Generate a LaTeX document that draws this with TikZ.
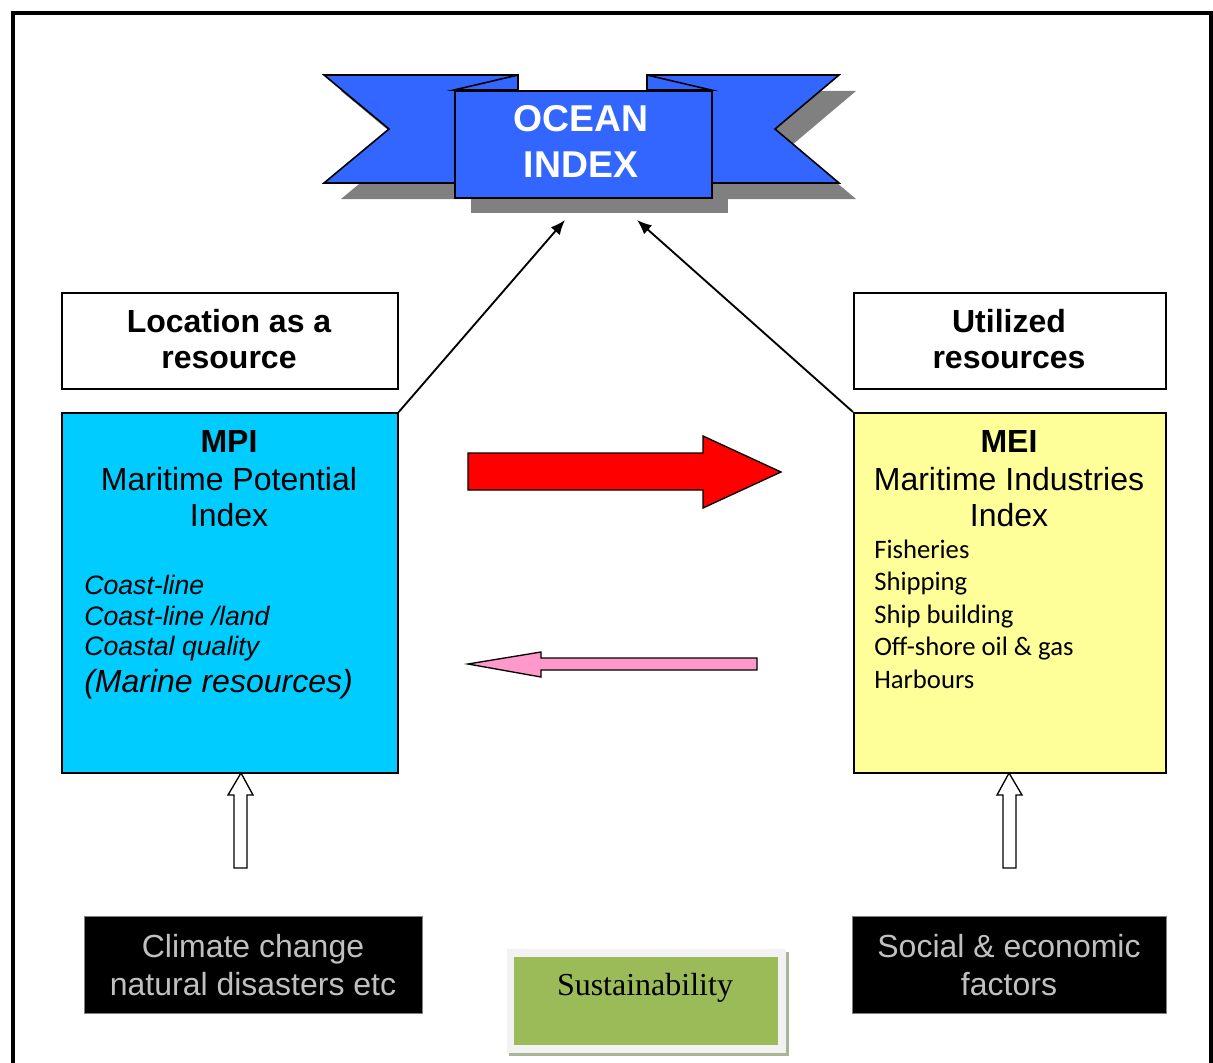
\documentclass[tikz,border=0pt]{standalone}
\usepackage{fontspec}
\setmainfont{Liberation Sans}
\newfontfamily\calibrifont{Carlito}
\newfontfamily\timesfont{Liberation Serif}
\usetikzlibrary{arrows.meta}
\definecolor{ribbonblue}{RGB}{51,102,255}
\definecolor{mpicyan}{RGB}{0,204,255}
\definecolor{meiyellow}{RGB}{255,255,153}
\definecolor{pinkarrow}{RGB}{255,153,204}
\definecolor{sustgreen}{RGB}{155,187,89}
\definecolor{sustframe}{RGB}{242,242,242}
\definecolor{sustshadow}{RGB}{170,180,150}
\definecolor{shadowgray}{RGB}{128,128,128}
\definecolor{greytext}{RGB}{192,192,192}
\begin{document}
\begin{tikzpicture}[x=0.75pt,y=-0.75pt,
  sz/.style 2 args={minimum width=#1*0.75pt, minimum height=#2*0.75pt},
  boxnode/.style={draw=black, line width=1.3pt, inner sep=0pt, anchor=north west},
  darkbox/.style={fill=black, draw=shadowgray, line width=0.8pt, inner sep=0pt, anchor=north west},
  ribbonpart/.style={fill=ribbonblue, draw=black, line width=1.2pt, line join=miter},
  txt/.style={inner sep=0pt, anchor=base},
  ltxt/.style={inner sep=0pt, anchor=base west},
  bigbold/.style={font=\fontsize{24}{28}\selectfont\bfseries},
  bigreg/.style={font=\fontsize{24}{28}\selectfont},
  itsmall/.style={font=\fontsize{20}{24}\selectfont\itshape},
  itbig/.style={font=\fontsize{24}{28}\selectfont\itshape},
  listtxt/.style={font=\fontsize{20}{24}\selectfont\calibrifont},
  greyt/.style={font=\fontsize{24}{28}\selectfont, text=greytext},
  thinarrow/.style={line width=1.4pt, -{Latex[length=11pt,width=9pt]}},
  blockarrow/.style={draw=black, line width=1pt, line join=miter}
]
\useasboundingbox (0,0) rectangle (1213,1063);
\fill[white] (0,0) rectangle (1213,1063);
\draw[line width=3pt] (13,1063) -- (13,13) -- (1211,13) -- (1211,1063);

% ribbon shadow
\begin{scope}[shift={(17,16)}]
  \fill[shadowgray] (324,75) -- (518,75) -- (518,183) -- (324,183) -- (389,129) -- cycle;
  \fill[shadowgray] (839,75) -- (647,75) -- (647,183) -- (839,183) -- (775,129) -- cycle;
  \fill[shadowgray] (454,90) rectangle (711,197);
\end{scope}
% ribbon tails and folds
\filldraw[ribbonpart] (518,183) -- (324,183) -- (389,129) -- (324,75) -- (518,75) -- cycle;
\filldraw[ribbonpart] (454,90) -- (518,75) -- (518,90) -- cycle;
\filldraw[ribbonpart] (647,183) -- (839,183) -- (775,129) -- (839,75) -- (647,75) -- cycle;
\filldraw[ribbonpart] (711,90) -- (647,75) -- (647,90) -- cycle;
\node[boxnode, fill=ribbonblue, line width=1.2pt, sz={257}{107}] (ocean) at (454,90) {};
\node[txt, font=\fontsize{28}{32}\selectfont\bfseries, text=white] (oceanA) at (581,132) {OCEAN};
\node[txt, font=\fontsize{28}{32}\selectfont\bfseries, text=white] (oceanB) at (581,177) {INDEX};

% header boxes
\node[boxnode, fill=white, sz={336}{96}] (loc) at (61,292) {};
\node[txt, bigbold] (locA) at (229,332) {Location as a};
\node[txt, bigbold] (locB) at (229,368) {resource};
\node[boxnode, fill=white, sz={312}{96}] (util) at (853,292) {};
\node[txt, bigbold] (utilA) at (1009,332) {Utilized};
\node[txt, bigbold] (utilB) at (1009,368) {resources};

% MPI box
\node[boxnode, fill=mpicyan, sz={336}{360}] (mpi) at (61,412) {};
\node[txt, bigbold] (mpiA) at (229,452) {MPI};
\node[txt, bigreg] (mpiB) at (229,490) {Maritime Potential};
\node[txt, bigreg] (mpiC) at (229,526) {Index};
\node[ltxt, itsmall] (mpiD) at (84,594) {Coast-line};
\node[ltxt, itsmall] (mpiE) at (84,625) {Coast-line /land};
\node[ltxt, itsmall] (mpiF) at (84,655) {Coastal quality};
\node[ltxt, itbig] (mpiG) at (84,692) {(Marine resources)};

% MEI box
\node[boxnode, fill=meiyellow, sz={312}{360}] (mei) at (853,412) {};
\node[txt, bigbold] (meiA) at (1009,452) {MEI};
\node[txt, bigreg] (meiB) at (1009,490) {Maritime Industries};
\node[txt, bigreg] (meiC) at (1009,526) {Index};
\node[ltxt, listtxt] (meiD) at (874,558) {Fisheries};
\node[ltxt, listtxt] (meiE) at (874,590) {Shipping};
\node[ltxt, listtxt] (meiF) at (874,623) {Ship building};
\node[ltxt, listtxt] (meiG) at (874,655) {Off-shore oil \& gas};
\node[ltxt, listtxt] (meiH) at (874,688) {Harbours};

% thin arrows to the ribbon
\coordinate (tipL) at (565,220);
\coordinate (tipR) at (637,220);
\draw[thinarrow] (mpi.north east) -- (tipL);
\draw[thinarrow] (mei.north west) -- (tipR);

% block arrows
\filldraw[blockarrow, fill=red] (468,453) -- (703,453) -- (703,436) -- (781,472) -- (703,508) -- (703,490) -- (468,490) -- cycle;
\filldraw[blockarrow, fill=pinkarrow] (757,658) -- (541,658) -- (541,652) -- (468,664) -- (541,677) -- (541,670) -- (757,670) -- cycle;
\filldraw[blockarrow, fill=white] (241,773) -- (253,795) -- (247,795) -- (247,868) -- (234,868) -- (234,795) -- (228,795) -- cycle;
\filldraw[blockarrow, fill=white] (1009,773) -- (1022,795) -- (1016,795) -- (1016,868) -- (1003,868) -- (1003,795) -- (997,795) -- cycle;

% bottom boxes
\node[darkbox, sz={338}{97}] (clim) at (84,916) {};
\node[txt, greyt] (climA) at (253,957) {Climate change};
\node[txt, greyt] (climB) at (253,995) {natural disasters etc};
\node[darkbox, sz={314}{97}] (soc) at (852,916) {};
\node[txt, greyt] (socA) at (1009,957) {Social \& economic};
\node[txt, greyt] (socB) at (1009,995) {factors};

% sustainability
\fill[sustshadow] (509,952) rectangle (789,1056);
\node[boxnode, draw=none, fill=sustframe, sz={279}{104}] (sustframe) at (506,948) {};
\node[boxnode, draw=none, fill=sustgreen, sz={264}{88}] (sust) at (513,956) {};
\node[txt, font=\fontsize{24}{28}\selectfont\timesfont] (sustA) at (645,995) {Sustainability};
\end{tikzpicture}
\end{document}
